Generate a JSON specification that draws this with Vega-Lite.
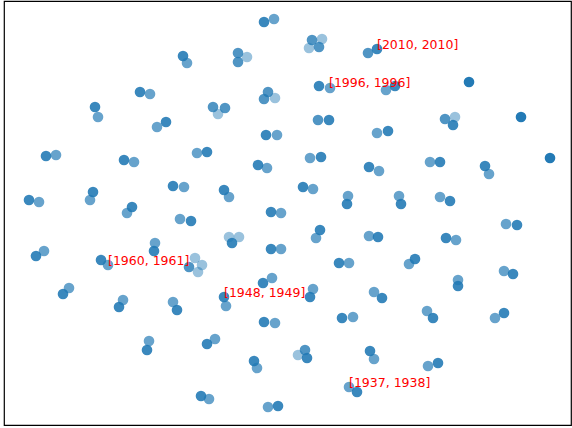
{
  "$schema": "https://vega.github.io/schema/vega-lite/v6.json",
  "autosize": "none",
  "padding": {"left": 4, "top": 1, "right": 1, "bottom": 3},
  "width": 567,
  "height": 424,
  "config": {"view": {"stroke": "#000000", "strokeWidth": 1.2}},
  "datasets": {
    "pts": [
      {"x":264,"y":22,"count":4},{"x":274,"y":19,"count":2},
      {"x":183,"y":56,"count":4},{"x":187,"y":63,"count":2},
      {"x":238,"y":53,"count":3},{"x":247,"y":57,"count":1},{"x":238,"y":62,"count":3},
      {"x":140,"y":92,"count":4},{"x":150,"y":94,"count":2},
      {"x":95,"y":107,"count":4},{"x":98,"y":117,"count":2},
      {"x":213,"y":107,"count":3},{"x":225,"y":108,"count":3},{"x":218,"y":114,"count":1},
      {"x":268,"y":92,"count":3},{"x":264,"y":99,"count":3},{"x":275,"y":98,"count":1},
      {"x":166,"y":122,"count":4},{"x":157,"y":127,"count":2},
      {"x":266,"y":135,"count":4},{"x":277,"y":135,"count":2},
      {"x":46,"y":156,"count":4},{"x":56,"y":155,"count":2},
      {"x":124,"y":160,"count":4},{"x":134,"y":162,"count":2},
      {"x":197,"y":153,"count":2},{"x":207,"y":152,"count":4},
      {"x":258,"y":165,"count":4},{"x":267,"y":168,"count":2},
      {"x":29,"y":200,"count":4},{"x":39,"y":202,"count":2},
      {"x":93,"y":192,"count":4},{"x":90,"y":200,"count":2},
      {"x":173,"y":186,"count":4},{"x":184,"y":187,"count":2},
      {"x":224,"y":190,"count":4},{"x":229,"y":197,"count":2},
      {"x":132,"y":207,"count":4},{"x":127,"y":213,"count":2},
      {"x":271,"y":212,"count":4},{"x":281,"y":213,"count":2},
      {"x":180,"y":219,"count":2},{"x":191,"y":221,"count":4},
      {"x":312,"y":40,"count":3},{"x":322,"y":39,"count":1},{"x":309,"y":48,"count":1},{"x":319,"y":47,"count":3},
      {"x":368,"y":53,"count":3},{"x":377,"y":49,"count":4},
      {"x":319,"y":86,"count":4},{"x":330,"y":88,"count":2},
      {"x":386,"y":90,"count":2},{"x":395,"y":86,"count":4},
      {"x":469,"y":82,"count":6},
      {"x":318,"y":120,"count":3},{"x":329,"y":120,"count":4},
      {"x":445,"y":119,"count":3},{"x":455,"y":117,"count":1},{"x":453,"y":125,"count":4},
      {"x":521,"y":117,"count":6},
      {"x":377,"y":133,"count":2},{"x":388,"y":131,"count":4},
      {"x":310,"y":158,"count":2},{"x":321,"y":157,"count":4},
      {"x":369,"y":167,"count":4},{"x":379,"y":171,"count":2},
      {"x":430,"y":162,"count":2},{"x":440,"y":162,"count":4},
      {"x":485,"y":166,"count":4},{"x":489,"y":174,"count":2},
      {"x":550,"y":158,"count":6},
      {"x":303,"y":187,"count":4},{"x":313,"y":189,"count":2},
      {"x":348,"y":196,"count":2},{"x":347,"y":204,"count":4},
      {"x":399,"y":196,"count":2},{"x":401,"y":204,"count":4},
      {"x":440,"y":197,"count":2},{"x":450,"y":201,"count":4},
      {"x":506,"y":224,"count":2},{"x":517,"y":225,"count":4},
      {"x":446,"y":238,"count":4},{"x":456,"y":240,"count":2},
      {"x":369,"y":236,"count":2},{"x":378,"y":237,"count":4},
      {"x":409,"y":264,"count":2},{"x":415,"y":259,"count":4},
      {"x":504,"y":271,"count":2},{"x":513,"y":274,"count":4},
      {"x":458,"y":280,"count":2},{"x":458,"y":286,"count":4},
      {"x":229,"y":237,"count":1},{"x":239,"y":237,"count":1},{"x":232,"y":243,"count":4},
      {"x":320,"y":230,"count":4},{"x":316,"y":238,"count":2},
      {"x":271,"y":249,"count":4},{"x":281,"y":249,"count":2},
      {"x":339,"y":263,"count":4},{"x":349,"y":263,"count":2},
      {"x":195,"y":258,"count":1},{"x":202,"y":265,"count":1},{"x":198,"y":272,"count":1},{"x":189,"y":267,"count":3},
      {"x":263,"y":283,"count":4},{"x":272,"y":278,"count":2},
      {"x":155,"y":243,"count":2},{"x":154,"y":251,"count":4},
      {"x":36,"y":256,"count":4},{"x":44,"y":251,"count":2},
      {"x":101,"y":260,"count":4},{"x":108,"y":265,"count":2},
      {"x":63,"y":294,"count":4},{"x":69,"y":288,"count":2},
      {"x":119,"y":307,"count":4},{"x":123,"y":300,"count":2},
      {"x":173,"y":302,"count":2},{"x":177,"y":310,"count":4},
      {"x":224,"y":297,"count":4},{"x":226,"y":306,"count":2},
      {"x":264,"y":322,"count":4},{"x":275,"y":323,"count":2},
      {"x":147,"y":350,"count":4},{"x":149,"y":341,"count":2},
      {"x":207,"y":344,"count":4},{"x":215,"y":339,"count":2},
      {"x":254,"y":361,"count":4},{"x":257,"y":368,"count":2},
      {"x":201,"y":396,"count":4},{"x":209,"y":399,"count":2},
      {"x":268,"y":407,"count":2},{"x":278,"y":406,"count":4},
      {"x":313,"y":289,"count":2},{"x":310,"y":297,"count":4},
      {"x":374,"y":292,"count":2},{"x":382,"y":298,"count":4},
      {"x":342,"y":318,"count":4},{"x":353,"y":317,"count":2},
      {"x":427,"y":311,"count":2},{"x":433,"y":318,"count":4},
      {"x":495,"y":318,"count":2},{"x":504,"y":313,"count":4},
      {"x":298,"y":355,"count":1},{"x":305,"y":350,"count":3},{"x":307,"y":358,"count":4},
      {"x":370,"y":351,"count":4},{"x":374,"y":359,"count":2},
      {"x":428,"y":366,"count":2},{"x":438,"y":363,"count":4},
      {"x":349,"y":387,"count":2},{"x":357,"y":392,"count":4}
    ],
    "labels": [
      {"x":377,"y":49,"label":"[2010, 2010]"},
      {"x":329,"y":87,"label":"[1996, 1996]"},
      {"x":108,"y":265,"label":"[1960, 1961]"},
      {"x":224,"y":297,"label":"[1948, 1949]"},
      {"x":349,"y":387,"label":"[1937, 1938]"}
    ]
  },
  "layer": [
    {
      "data": {"name": "pts"},
      "mark": {"type": "circle", "color": "#1f77b4", "size": 113},
      "encoding": {
        "x": {"field": "x", "type": "quantitative", "scale": {"domain": [4, 571], "nice": false, "zero": false}, "axis": null},
        "y": {"field": "y", "type": "quantitative", "scale": {"domain": [1, 425], "nice": false, "zero": false, "reverse": true}, "axis": null},
        "opacity": {"field": "count", "type": "quantitative", "scale": {"domain": [1, 2, 4, 6], "range": [0.45, 0.68, 0.88, 0.98]}, "legend": null}
      }
    },
    {
      "data": {"name": "labels"},
      "mark": {"type": "text", "color": "#ff0000", "fontSize": 12.5, "font": "DejaVu Sans", "align": "left", "baseline": "alphabetic"},
      "encoding": {
        "x": {"field": "x", "type": "quantitative"},
        "y": {"field": "y", "type": "quantitative"},
        "text": {"field": "label"}
      }
    }
  ]
}
